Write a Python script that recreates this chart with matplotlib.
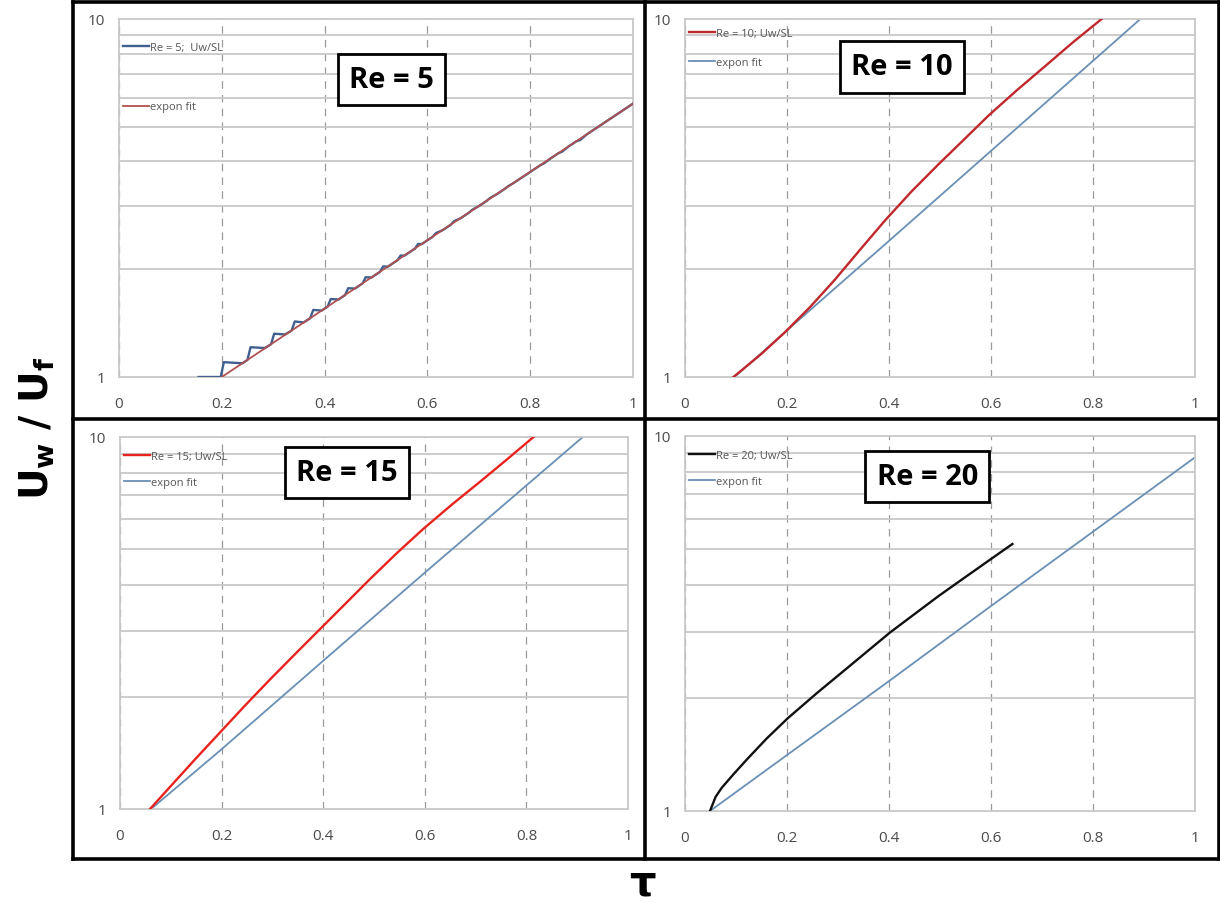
import numpy as np
import matplotlib
matplotlib.use("Agg")
import matplotlib.pyplot as plt
from matplotlib.lines import Line2D
from matplotlib.ticker import FixedLocator, NullFormatter, FixedFormatter

plt.rcParams['font.family'] = ['Open Sans', 'DejaVu Sans']
plt.rcParams['mathtext.fontset'] = 'dejavusans'

# Re = 5: measured wall velocity ratio (staircase oscillations) and fit
tau_re5 = [0.155, 0.192, 0.198, 0.204, 0.228, 0.240, 0.250, 0.256, 0.278, 0.284,
           0.296, 0.302, 0.318, 0.323, 0.336, 0.342, 0.354, 0.359, 0.372, 0.378,
           0.390, 0.394, 0.406, 0.412, 0.424, 0.427, 0.440, 0.446, 0.456, 0.459,
           0.474, 0.480, 0.489, 0.491, 0.508, 0.514, 0.521, 0.523, 0.542, 0.548,
           0.553, 0.555, 0.576, 0.582, 0.589, 0.610, 0.617, 0.630, 0.645, 0.652,
           0.665, 0.680, 0.687, 0.700, 0.715, 0.722, 0.735, 0.750, 0.757, 0.770,
           0.785, 0.792, 0.805, 0.820, 0.827, 0.840, 0.855, 0.862, 0.875, 0.890,
           0.897, 0.910, 0.950, 1.000]
u_re5 = [1.000, 1.000, 1.000, 1.100, 1.095, 1.092, 1.116, 1.211, 1.206, 1.205,
         1.235, 1.321, 1.316, 1.314, 1.348, 1.429, 1.423, 1.420, 1.459, 1.539,
         1.535, 1.532, 1.572, 1.651, 1.647, 1.645, 1.694, 1.770, 1.767, 1.765,
         1.826, 1.899, 1.897, 1.895, 1.967, 2.036, 2.034, 2.032, 2.120, 2.184,
         2.182, 2.180, 2.284, 2.353, 2.350, 2.462, 2.524, 2.572, 2.658, 2.724,
         2.777, 2.871, 2.928, 3.000, 3.100, 3.162, 3.239, 3.348, 3.408, 3.498,
         3.616, 3.670, 3.778, 3.905, 3.952, 4.080, 4.217, 4.259, 4.406, 4.553,
         4.589, 4.757, 5.195, 5.800]
tau_fit5 = [0.200, 0.400, 0.600, 0.800, 1.000]
u_fit5 = [1.000, 1.552, 2.410, 3.740, 5.800]

# Re = 10
tau_re10 = [0.095, 0.150, 0.196, 0.245, 0.294, 0.343, 0.392, 0.444, 0.497,
            0.549, 0.595, 0.650, 0.706, 0.760, 0.817]
u_re10 = [1.000, 1.161, 1.334, 1.567, 1.871, 2.265, 2.735, 3.296, 3.926,
          4.634, 5.370, 6.310, 7.379, 8.590, 10.00]
tau_fit10 = [0.097, 0.200, 0.400, 0.600, 0.893]
u_fit10 = [1.00, 1.35, 2.40, 4.28, 10.0]

# Re = 15
tau_re15 = [0.059, 0.100, 0.150, 0.197, 0.246, 0.295, 0.345, 0.394, 0.443,
            0.492, 0.545, 0.597, 0.653, 0.709, 0.762, 0.814]
u_re15 = [1.000, 1.153, 1.371, 1.607, 1.897, 2.228, 2.612, 3.048, 3.556,
          4.150, 4.875, 5.662, 6.577, 7.586, 8.710, 10.00]
tau_fit15 = [0.061, 0.198, 0.401, 0.601, 0.911]
u_fit15 = [1.00, 1.44, 2.51, 4.33, 10.0]

# Re = 20
tau_re20 = [0.049, 0.060, 0.072, 0.095, 0.123, 0.160, 0.202, 0.260, 0.324,
            0.402, 0.450, 0.497, 0.550, 0.598, 0.642]
u_re20 = [1.000, 1.091, 1.153, 1.253, 1.380, 1.560, 1.770, 2.070, 2.443,
          2.992, 3.350, 3.741, 4.207, 4.677, 5.152]
tau_fit20 = [0.049, 0.200, 0.400, 0.600, 1.000]
u_fit20 = [1.00, 1.41, 2.22, 3.52, 8.77]

panels = [
    # rect, data, fit, data colour, fit colour, label, title, title pos, legend y, spacing
    ([0.0975, 0.5814, 0.4213, 0.3965], (tau_re5, u_re5), (tau_fit5, u_fit5),
     '#3f5f8f', '#b05050', 'Re = 5;  Uw/SL', 'Re = 5', (0.53, 0.83), 0.937, 4.4),
    ([0.5615, 0.5814, 0.4180, 0.3965], (tau_re10, u_re10), (tau_fit10, u_fit10),
     '#c0282d', '#6a8fb5', 'Re = 10; Uw/SL', 'Re = 10', (0.425, 0.866), 0.974, 1.6),
    ([0.0984, 0.1030, 0.4164, 0.4120], (tau_re15, u_re15), (tau_fit15, u_fit15),
     '#e8231e', '#6a8fb5', 'Re = 15; Uw/SL', 'Re = 15', (0.447, 0.905), 0.962, 1.3),
    ([0.5615, 0.1008, 0.4180, 0.4153], (tau_re20, u_re20), (tau_fit20, u_fit20),
     '#111111', '#6a8fb5', 'Re = 20; Uw/SL', 'Re = 20', (0.475, 0.893), 0.962, 1.3),
]

fig = plt.figure(figsize=(12.2, 9.03), dpi=100)

for rect, (xd, yd), (xf, yf), cd, cf, lab, title, tpos, ly, lsp in panels:
    ax = fig.add_axes(rect)
    ax.set_yscale('log')
    ax.set_xlim(0, 1)
    ax.set_ylim(1, 10)

    # Re = 5 panel draws the fit on top of the data
    fit_z = 4 if title == 'Re = 5' else 2
    ax.plot(xd, yd, color=cd, lw=1.7, label=lab, zorder=3)
    ax.plot(xf, yf, color=cf, lw=1.3, label='expon fit', zorder=fit_z)

    ax.xaxis.set_major_locator(FixedLocator([0, 0.2, 0.4, 0.6, 0.8, 1.0]))
    ax.xaxis.set_major_formatter(FixedFormatter(['0', '0.2', '0.4', '0.6', '0.8', '1']))
    ax.yaxis.set_major_locator(FixedLocator([1, 10]))
    ax.yaxis.set_major_formatter(FixedFormatter(['1', '10']))
    ax.yaxis.set_minor_locator(FixedLocator([2, 3, 4, 5, 6, 7, 8, 9]))
    ax.yaxis.set_minor_formatter(NullFormatter())
    ax.tick_params(which='both', length=0, labelsize=11, colors='#4a4a4a')
    ax.tick_params(axis='x', pad=14)
    ax.tick_params(axis='y', pad=10)

    ax.grid(True, which='minor', axis='y', color='#c8c8c8', lw=1.3)
    ax.grid(True, which='major', axis='x', color='#9a9a9a', lw=0.9, ls=(0, (6, 5)))
    for s in ax.spines.values():
        s.set_color('#c8c8c8')
        s.set_linewidth(1.3)
    ax.set_axisbelow(True)

    leg = ax.legend(loc='upper left', bbox_to_anchor=(0.008, ly), frameon=False,
                    fontsize=8, labelspacing=lsp, handlelength=2.3, handletextpad=0.1,
                    borderaxespad=0, borderpad=0)
    for t in leg.get_texts():
        t.set_color('#555555')

    ax.text(tpos[0], tpos[1], title, transform=ax.transAxes, ha='center', va='center',
            fontsize=21, fontweight='bold', zorder=6,
            bbox=dict(boxstyle='square,pad=0.38', fc='white', ec='black', lw=2))

# outer frame and dividers between the four charts
frame = dict(color='black', lw=2.6, transform=fig.transFigure)
x0, x1, xm = 73 / 1220, 1219 / 1220, 645 / 1220
y0, y1, ym = 1 - 3 / 903, 1 - 860 / 903, 1 - 420 / 903
fig.add_artist(Line2D([x0, x1], [y0, y0], **frame))
fig.add_artist(Line2D([x0, x1], [y1, y1], **frame))
fig.add_artist(Line2D([x0, x0], [y0, y1], **frame))
fig.add_artist(Line2D([x1, x1], [y0, y1], **frame))
fig.add_artist(Line2D([xm, xm], [y0, y1], **frame))
fig.add_artist(Line2D([x0, x1], [ym, ym], **frame))

fig.text(38 / 1220, 1 - 428 / 903, r'$\mathbf{U_w\ /\ U_f}$', rotation=90,
         ha='center', va='center', fontsize=28)
fig.text(642 / 1220, 1 - 896 / 903, 'τ', ha='center', va='baseline',
         fontsize=30, fontweight='bold', family='DejaVu Sans')

fig.savefig('out.png', dpi=100)
